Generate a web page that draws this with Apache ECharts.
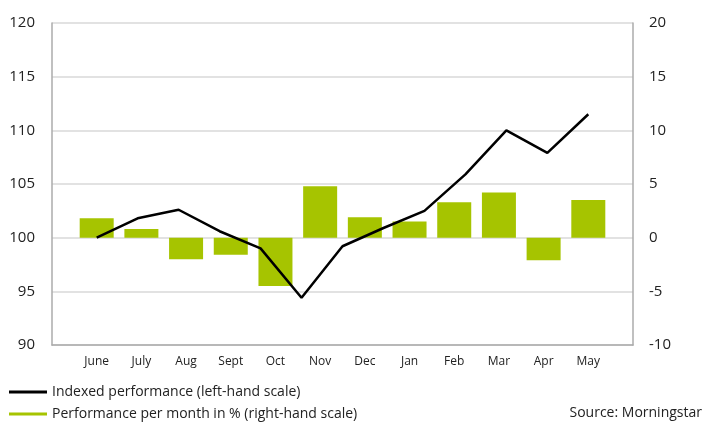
<!DOCTYPE html>
<html>
<head>
<meta charset="utf-8">
<script src="https://cdn.jsdelivr.net/npm/echarts@6/dist/echarts.min.js"></script>
<style>
  html, body { margin: 0; padding: 0; background: #fff; }
  #chart { width: 702px; height: 425px; }
</style>
</head>
<body>
<div id="chart"></div>
<script>
// months on the bar axis
var months = ['June', 'July', 'Aug', 'Sept', 'Oct', 'Nov', 'Dec', 'Jan', 'Feb', 'Mar', 'Apr', 'May'];
// monthly performance in % (right-hand scale)
var monthlyPerf = [1.8, 0.8, -2.0, -1.6, -4.5, 4.8, 1.9, 1.5, 3.3, 4.2, -2.1, 3.5];
// indexed performance, start value + 12 month ends (left-hand scale)
var indexed = [100.0, 101.8, 102.6, 100.6, 99.0, 94.4, 99.2, 100.9, 102.5, 105.9, 110.0, 107.9, 111.5];

var leftTicks = { min: 90, max: 120, step: 5 };
var rightTicks = { min: -10, max: 20, step: 5 };

var lineName = 'Indexed performance (left-hand scale)';
var barName = 'Performance per month in % (right-hand scale)';

var barData = monthlyPerf.map(function (v, i) { return [i, v]; });
var lineData = indexed.map(function (v, i) { return [i, v]; });

// line points run from June centre to May centre in 12 steps
var k = indexed.length - 1;
var f = k / (months.length - 1);

var chart = echarts.init(document.getElementById('chart'));
var font = 'Open Sans';
var axisGrey = '#ababab';
var gridGrey = '#d9d9d9';

function legendAt(top, name) {
  return {
    left: 9,
    top: top,
    padding: 0,
    icon: 'rect',
    itemWidth: 38,
    itemHeight: 3,
    textStyle: { fontSize: 14, color: '#222', fontFamily: font },
    data: [name]
  };
}

chart.setOption({
  animation: false,
  textStyle: { fontFamily: font },
  grid: { left: 52, right: 69, top: 23, bottom: 80 },
  legend: [legendAt(385, lineName), legendAt(407, barName)],
  graphic: [{
    type: 'text',
    right: 0,
    top: 406,
    style: { text: 'Source: Morningstar', fontSize: 14, fill: '#222', fontFamily: font }
  }],
  xAxis: [
    {
      type: 'value',
      min: -1,
      max: months.length,
      interval: 1,
      axisLine: { show: true, onZero: false, lineStyle: { color: axisGrey, width: 1.5 } },
      axisTick: { show: false },
      splitLine: { show: false },
      axisLabel: {
        fontSize: 12,
        color: '#222',
        margin: 11,
        formatter: function (v) { return months[v] || ''; }
      }
    },
    {
      type: 'value',
      min: -f,
      max: months.length * f,
      show: false
    }
  ],
  yAxis: [
    {
      type: 'value',
      position: 'left',
      min: leftTicks.min,
      max: leftTicks.max,
      interval: leftTicks.step,
      axisLine: { show: true, onZero: false, lineStyle: { color: axisGrey, width: 1.5 } },
      axisTick: { show: false },
      splitLine: { show: true, lineStyle: { color: gridGrey, width: 1.5 } },
      axisLabel: { fontSize: 15, color: '#222', margin: 17 }
    },
    {
      type: 'value',
      position: 'right',
      min: rightTicks.min,
      max: rightTicks.max,
      interval: rightTicks.step,
      axisLine: { show: true, onZero: false, lineStyle: { color: axisGrey, width: 1.5 } },
      axisTick: { show: false },
      splitLine: { show: false },
      axisLabel: { fontSize: 15, color: '#222', margin: 16 }
    }
  ],
  series: [
    {
      name: barName,
      type: 'bar',
      xAxisIndex: 0,
      yAxisIndex: 1,
      barWidth: 34,
      itemStyle: { color: '#a6c400' },
      data: barData
    },
    {
      name: lineName,
      type: 'line',
      xAxisIndex: 1,
      yAxisIndex: 0,
      symbol: 'none',
      lineStyle: { color: '#000', width: 2.5 },
      itemStyle: { color: '#000' },
      data: lineData
    }
  ]
});
</script>
</body>
</html>
